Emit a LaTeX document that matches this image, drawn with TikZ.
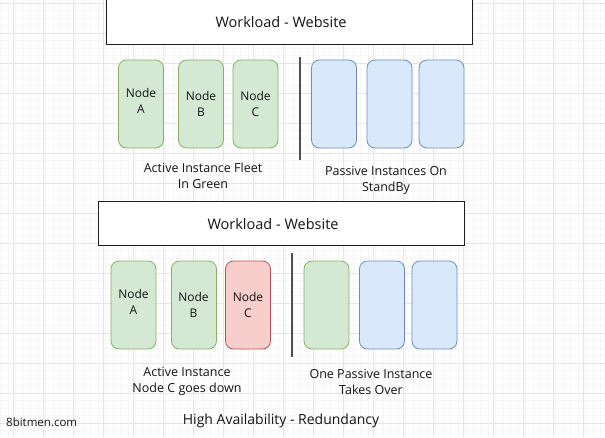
\documentclass[tikz,border=0pt]{standalone}
\usepackage{fontspec}
\setmainfont{Open Sans}
\definecolor{gfill}{RGB}{213,232,212}
\definecolor{gline}{RGB}{130,179,102}
\definecolor{bfill}{RGB}{218,232,252}
\definecolor{bline}{RGB}{108,142,191}
\definecolor{rfill}{RGB}{248,206,204}
\definecolor{rline}{RGB}{184,84,80}
\definecolor{minorgrid}{RGB}{246,246,246}
\definecolor{majorgrid}{RGB}{230,230,230}
\definecolor{ink}{RGB}{20,20,20}
\definecolor{boxline}{RGB}{30,30,30}
\definecolor{divcol}{RGB}{80,80,80}
\begin{document}
\begin{tikzpicture}[x=1pt,y=-1pt,
  inst/.style={draw, rounded corners=8pt, line width=0.8pt, minimum width=45pt, minimum height=88pt, inner sep=0pt},
  gbox/.style={inst, fill=gfill, draw=gline},
  bbox/.style={inst, fill=bfill, draw=bline},
  rbox/.style={inst, fill=rfill, draw=rline},
  wbox/.style={draw=boxline, fill=white, line width=1pt},
  lbl/.style={font=\fontsize{12.5}{16}\selectfont, align=center, text=ink},
  nlbl/.style={font=\fontsize{12}{16}\selectfont, align=center, text=ink},
  divider/.style={draw=divcol, line width=1.5pt}
]
\useasboundingbox (0,0) rectangle (605,437);
\fill[white] (0,0) rectangle (605,437);
% grid
\foreach \x in {0.5,8,...,605} \draw[minorgrid, line width=0.5pt] (\x,0) -- (\x,437);
\foreach \y in {3,10.5,...,437} \draw[minorgrid, line width=0.5pt] (0,\y) -- (605,\y);
\foreach \x in {13,43,...,605} \draw[majorgrid, line width=0.6pt] (\x,0) -- (\x,437);
\foreach \y in {3,33,...,437} \draw[majorgrid, line width=0.6pt] (0,\y) -- (605,\y);

% top section
\node[wbox, minimum width=366pt, minimum height=60pt, inner sep=0pt] (w1) at (289,14) {};
\node[font=\fontsize{14.5}{17}\selectfont, text=ink] (w1t) at (281,22) {Workload - Website};
\node[gbox] (a1) at (141,104) {};
\node[gbox] (b1) at (201,104) {};
\node[gbox] (c1) at (255.5,104) {};
\node[nlbl] (a1t) at (141,101) {Node\\A};
\node[nlbl] (b1t) at (201,104) {Node\\B};
\node[nlbl] (c1t) at (255.5,104) {Node\\C};
\coordinate (d1a) at (300,57);
\coordinate (d1b) at (300,160);
\draw[divider] (d1a) -- (d1b);
\node[bbox] (p1) at (334,104) {};
\node[bbox] (p2) at (389.5,104) {};
\node[bbox] (p3) at (441.5,104) {};
\node[lbl] (l1) at (203,176) {Active Instance Fleet\\In Green};
\node[lbl] (l2) at (386,180) {Passive Instances On\\StandBy};

% bottom section
\node[wbox, minimum width=366pt, minimum height=44pt, inner sep=0pt] (w2) at (281,223) {};
\node[font=\fontsize{14.5}{17}\selectfont, text=ink] (w2t) at (273,224) {Workload - Website};
\node[gbox] (a2) at (133.5,305) {};
\node[gbox] (b2) at (194,305) {};
\node[rbox] (c2) at (248,305) {};
\node[nlbl] (a2t) at (133.5,302) {Node\\A};
\node[nlbl] (b2t) at (193.5,305) {Node\\B};
\node[nlbl] (c2t) at (248,305) {Node\\C};
\coordinate (d2a) at (292,253);
\coordinate (d2b) at (292,357);
\draw[divider] (d2a) -- (d2b);
\node[gbox] (q1) at (326.5,305) {};
\node[bbox] (q2) at (382,305) {};
\node[bbox] (q3) at (434.5,305) {};
\node[lbl] (l3) at (187,381.5) {Active Instance\\Node C goes down};
\node[lbl] (l4) at (371,381.5) {One Passive Instance\\Takes Over};
\node[font=\fontsize{14}{16}\selectfont, text=ink] (title) at (281,421) {High Availability - Redundancy};
\node[font=\fontsize{11.5}{14}\selectfont, text=ink, anchor=west, inner sep=0pt] (brand) at (6,422) {8bitmen.com};
\end{tikzpicture}
\end{document}
